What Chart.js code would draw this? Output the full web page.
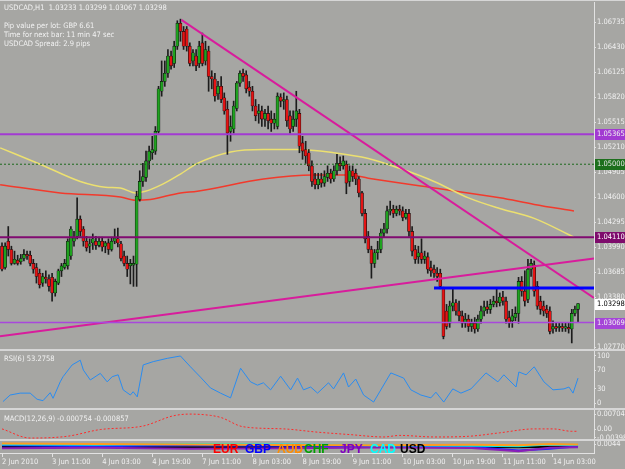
<!DOCTYPE html>
<html>
<head>
<meta charset="utf-8">
<title>USDCAD,H1</title>
<script src="https://cdn.jsdelivr.net/npm/chart.js"></script>
<style>
  html, body { margin: 0; padding: 0; }
  body {
    width: 625px; height: 469px; position: relative; overflow: hidden;
    background: #a6a6a3;
    font-family: "DejaVu Sans Condensed", "Liberation Sans Narrow", "Liberation Sans", sans-serif;
  }
  canvas { position: absolute; left: 0; }
  .sep { position: absolute; left: 0; width: 625px; height: 2px; background: #d6d6d6; z-index: 3; }
  .txt { position: absolute; left: 4px; color: #f2f2f2; font-size: 7.5px; line-height: 9px; white-space: pre; z-index: 4; }
  .cur { position: absolute; top: 443px; font: bold 12px "Liberation Sans", sans-serif; line-height: 12px; z-index: 4; }
</style>
</head>
<body>
  <canvas id="main" width="625" height="350" style="top:0"></canvas>
  <canvas id="rsi" width="625" height="57" style="top:351px"></canvas>
  <canvas id="macd" width="625" height="29" style="top:410px"></canvas>
  <canvas id="cur" width="625" height="28" style="top:441px"></canvas>

  <div class="sep" style="top:0;height:1px"></div>
  <div class="sep" style="top:349px"></div>
  <div class="sep" style="top:408px"></div>
  <div class="sep" style="top:439px"></div>

  <div class="txt" style="top:3px">USDCAD,H1  1.03233 1.03299 1.03067 1.03298</div>
  <div class="txt" style="top:21px">Pip value per lot: GBP 6.61</div>
  <div class="txt" style="top:30px">Time for next bar: 11 min 47 sec</div>
  <div class="txt" style="top:39px">USDCAD Spread: 2.9 pips</div>
  <div class="txt" style="top:354px">RSI(6) 53.2758</div>
  <div class="txt" style="top:414px">MACD(12,26,9) -0.000754 -0.000857</div>

  <div class="cur" style="left:213px;color:#ff0000">EUR</div>
  <div class="cur" style="left:245px;color:#0000ff">GBP</div>
  <div class="cur" style="left:277px;color:#ff8c00">AUD</div>
  <div class="cur" style="left:304px;color:#00a000">CHF</div>
  <div class="cur" style="left:340px;color:#8000c0">JPY</div>
  <div class="cur" style="left:370px;color:#00ffff">CAD</div>
  <div class="cur" style="left:400px;color:#000000">USD</div>

<script>
// USDCAD H1 candles, 2 Jun 19:00 -> 14 Jun 11:00
const opens = [
  1.0400, 1.0374, 1.0406, 1.0396, 1.0379, 1.0383, 1.0381, 1.0385, 1.0390, 1.0389,
  1.0379, 1.0374, 1.0367, 1.0355, 1.0362, 1.0360, 1.0362, 1.0343, 1.0355, 1.0370,
  1.0374, 1.0376, 1.0388, 1.0406, 1.0412, 1.0433, 1.0421, 1.0406, 1.0400, 1.0404,
  1.0406, 1.0401, 1.0406, 1.0400, 1.0404, 1.0396, 1.0406, 1.0409, 1.0403, 1.0388,
  1.0379, 1.0376, 1.0377, 1.0378, 1.0457, 1.0479, 1.0484, 1.0504, 1.0514, 1.0516,
  1.0540, 1.0589, 1.0601, 1.0611, 1.0632, 1.0623, 1.0644, 1.0672, 1.0662, 1.0665,
  1.0644, 1.0626, 1.0632, 1.0623, 1.0648, 1.0626, 1.0638, 1.0607, 1.0604, 1.0586,
  1.0595, 1.0581, 1.0567, 1.0540, 1.0543, 1.0568, 1.0599, 1.0611, 1.0609, 1.0594,
  1.0589, 1.0571, 1.0562, 1.0565, 1.0555, 1.0562, 1.0555, 1.0550, 1.0546, 1.0582,
  1.0577, 1.0579, 1.0559, 1.0546, 1.0555, 1.0562, 1.0526, 1.0518, 1.0514, 1.0498,
  1.0482, 1.0475, 1.0482, 1.0477, 1.0484, 1.0489, 1.0482, 1.0492, 1.0501, 1.0498,
  1.0500, 1.0479, 1.0492, 1.0489, 1.0482, 1.0465, 1.0440, 1.0412, 1.0396, 1.0379,
  1.0392, 1.0396, 1.0416, 1.0421, 1.0443, 1.0445, 1.0440, 1.0445, 1.0443, 1.0435,
  1.0440, 1.0418, 1.0396, 1.0387, 1.0392, 1.0384, 1.0387, 1.0374, 1.0372, 1.0367,
  1.0367, 1.0348, 1.0321, 1.0306, 1.0327, 1.0331, 1.0321, 1.0315, 1.0306, 1.0311,
  1.0302, 1.0306, 1.0299, 1.0311, 1.0321, 1.0326, 1.0323, 1.0329, 1.0333, 1.0331,
  1.0338, 1.0333, 1.0313, 1.0309, 1.0313, 1.0318, 1.0357, 1.0345, 1.0335, 1.0372,
  1.0377, 1.0351, 1.0333, 1.0327, 1.0323, 1.0321, 1.0299, 1.0302, 1.0301, 1.0302,
  1.0300, 1.0301, 1.0299, 1.0318, 1.0323
];
const highs = [
  1.0404, 1.0404, 1.0424, 1.0400, 1.0394, 1.0389, 1.0390, 1.0396, 1.0394, 1.0394,
  1.0384, 1.0379, 1.0372, 1.0367, 1.0370, 1.0365, 1.0367, 1.0360, 1.0372, 1.0379,
  1.0384, 1.0409, 1.0424, 1.0418, 1.0459, 1.0437, 1.0424, 1.0412, 1.0409, 1.0415,
  1.0412, 1.0411, 1.0411, 1.0406, 1.0409, 1.0411, 1.0421, 1.0422, 1.0406, 1.0394,
  1.0388, 1.0384, 1.0388, 1.0467, 1.0492, 1.0501, 1.0516, 1.0522, 1.0534, 1.0546,
  1.0595, 1.0626, 1.0626, 1.0640, 1.0638, 1.0650, 1.0675, 1.0677, 1.0668, 1.0668,
  1.0648, 1.0640, 1.0640, 1.0650, 1.0660, 1.0650, 1.0644, 1.0614, 1.0611, 1.0601,
  1.0607, 1.0587, 1.0577, 1.0559, 1.0577, 1.0601, 1.0614, 1.0616, 1.0614, 1.0601,
  1.0595, 1.0579, 1.0573, 1.0571, 1.0567, 1.0571, 1.0565, 1.0562, 1.0587, 1.0586,
  1.0587, 1.0583, 1.0565, 1.0565, 1.0589, 1.0567, 1.0534, 1.0528, 1.0518, 1.0504,
  1.0489, 1.0489, 1.0489, 1.0492, 1.0498, 1.0494, 1.0498, 1.0512, 1.0509, 1.0510,
  1.0504, 1.0498, 1.0498, 1.0494, 1.0485, 1.0467, 1.0445, 1.0418, 1.0400, 1.0396,
  1.0406, 1.0421, 1.0428, 1.0449, 1.0455, 1.0450, 1.0449, 1.0450, 1.0448, 1.0445,
  1.0445, 1.0424, 1.0401, 1.0400, 1.0409, 1.0394, 1.0392, 1.0382, 1.0377, 1.0374,
  1.0372, 1.0350, 1.0329, 1.0333, 1.0349, 1.0335, 1.0333, 1.0321, 1.0318, 1.0316,
  1.0311, 1.0313, 1.0316, 1.0327, 1.0333, 1.0333, 1.0335, 1.0339, 1.0349, 1.0343,
  1.0345, 1.0338, 1.0321, 1.0323, 1.0326, 1.0362, 1.0363, 1.0370, 1.0384, 1.0384,
  1.0382, 1.0357, 1.0339, 1.0333, 1.0328, 1.0326, 1.0309, 1.0306, 1.0306, 1.0307,
  1.0306, 1.0306, 1.0323, 1.0327, 1.0330
];
const lows = [
  1.0370, 1.0372, 1.0388, 1.0377, 1.0378, 1.0377, 1.0378, 1.0382, 1.0384, 1.0376,
  1.0367, 1.0355, 1.0349, 1.0351, 1.0355, 1.0345, 1.0333, 1.0339, 1.0353, 1.0363,
  1.0372, 1.0372, 1.0384, 1.0400, 1.0409, 1.0412, 1.0400, 1.0394, 1.0392, 1.0396,
  1.0396, 1.0399, 1.0394, 1.0392, 1.0390, 1.0394, 1.0403, 1.0399, 1.0382, 1.0376,
  1.0363, 1.0354, 1.0351, 1.0351, 1.0455, 1.0473, 1.0479, 1.0494, 1.0506, 1.0512,
  1.0538, 1.0583, 1.0595, 1.0606, 1.0616, 1.0618, 1.0640, 1.0650, 1.0640, 1.0638,
  1.0620, 1.0620, 1.0614, 1.0618, 1.0620, 1.0621, 1.0589, 1.0592, 1.0577, 1.0579,
  1.0575, 1.0561, 1.0512, 1.0528, 1.0538, 1.0565, 1.0595, 1.0601, 1.0587, 1.0583,
  1.0565, 1.0553, 1.0550, 1.0546, 1.0546, 1.0543, 1.0540, 1.0543, 1.0543, 1.0570,
  1.0567, 1.0546, 1.0538, 1.0540, 1.0546, 1.0514, 1.0506, 1.0501, 1.0492, 1.0473,
  1.0470, 1.0470, 1.0472, 1.0473, 1.0479, 1.0477, 1.0479, 1.0487, 1.0492, 1.0494,
  1.0464, 1.0473, 1.0479, 1.0475, 1.0460, 1.0437, 1.0404, 1.0392, 1.0361, 1.0374,
  1.0384, 1.0392, 1.0411, 1.0416, 1.0438, 1.0435, 1.0437, 1.0438, 1.0431, 1.0433,
  1.0412, 1.0388, 1.0379, 1.0379, 1.0379, 1.0379, 1.0367, 1.0363, 1.0362, 1.0357,
  1.0348, 1.0287, 1.0299, 1.0301, 1.0321, 1.0316, 1.0309, 1.0301, 1.0301, 1.0296,
  1.0296, 1.0294, 1.0296, 1.0306, 1.0315, 1.0318, 1.0318, 1.0326, 1.0326, 1.0327,
  1.0328, 1.0306, 1.0301, 1.0301, 1.0309, 1.0306, 1.0339, 1.0327, 1.0331, 1.0363,
  1.0339, 1.0323, 1.0317, 1.0315, 1.0313, 1.0293, 1.0294, 1.0296, 1.0296, 1.0296,
  1.0296, 1.0294, 1.0282, 1.0315, 1.0307
];
const closes = [
  1.0372, 1.0400, 1.0396, 1.0379, 1.0384, 1.0379, 1.0385, 1.0390, 1.0388, 1.0379,
  1.0372, 1.0363, 1.0353, 1.0363, 1.0360, 1.0351, 1.0343, 1.0357, 1.0370, 1.0376,
  1.0379, 1.0406, 1.0421, 1.0410, 1.0433, 1.0418, 1.0406, 1.0398, 1.0403, 1.0409,
  1.0401, 1.0406, 1.0399, 1.0404, 1.0396, 1.0406, 1.0410, 1.0404, 1.0385, 1.0379,
  1.0372, 1.0379, 1.0379, 1.0461, 1.0479, 1.0485, 1.0504, 1.0516, 1.0518, 1.0540,
  1.0592, 1.0601, 1.0611, 1.0632, 1.0620, 1.0644, 1.0672, 1.0662, 1.0644, 1.0644,
  1.0623, 1.0636, 1.0620, 1.0644, 1.0623, 1.0640, 1.0607, 1.0604, 1.0583, 1.0595,
  1.0579, 1.0565, 1.0538, 1.0546, 1.0571, 1.0599, 1.0611, 1.0607, 1.0592, 1.0589,
  1.0571, 1.0559, 1.0565, 1.0555, 1.0562, 1.0553, 1.0550, 1.0555, 1.0583, 1.0577,
  1.0579, 1.0553, 1.0543, 1.0555, 1.0565, 1.0522, 1.0516, 1.0510, 1.0498, 1.0479,
  1.0475, 1.0482, 1.0477, 1.0485, 1.0489, 1.0482, 1.0492, 1.0501, 1.0498, 1.0504,
  1.0477, 1.0492, 1.0485, 1.0482, 1.0465, 1.0440, 1.0409, 1.0396, 1.0379, 1.0392,
  1.0396, 1.0416, 1.0421, 1.0443, 1.0445, 1.0440, 1.0445, 1.0443, 1.0435, 1.0440,
  1.0418, 1.0394, 1.0384, 1.0392, 1.0384, 1.0388, 1.0372, 1.0370, 1.0367, 1.0363,
  1.0351, 1.0290, 1.0302, 1.0327, 1.0331, 1.0321, 1.0315, 1.0306, 1.0311, 1.0302,
  1.0306, 1.0299, 1.0311, 1.0321, 1.0326, 1.0323, 1.0329, 1.0333, 1.0331, 1.0338,
  1.0333, 1.0311, 1.0306, 1.0315, 1.0318, 1.0357, 1.0345, 1.0333, 1.0372, 1.0379,
  1.0345, 1.0327, 1.0323, 1.0321, 1.0318, 1.0296, 1.0302, 1.0300, 1.0302, 1.0300,
  1.0302, 1.0299, 1.0318, 1.0323, 1.0330
];

// moving averages (bar index -> price)
const yellowIdx = [-0.6, 12.2, 25, 33, 37.8, 42.6, 45.8, 51.5, 57, 62.4, 73, 83.5, 94.4, 106, 117, 127, 138, 149, 159, 170, 182.7];
const yellowVal = [1.0520, 1.0500, 1.0479, 1.0472, 1.0471, 1.0465, 1.0467, 1.0476, 1.0488, 1.0501, 1.0515, 1.0518, 1.0518, 1.0514, 1.0507, 1.0495, 1.0479, 1.0459, 1.0446, 1.0434, 1.0411];
const redIdx = [-0.6, 18.6, 37.8, 42.6, 47.4, 57, 62.4, 83.5, 99.5, 111, 117, 138, 159, 170, 182.7];
const redVal = [1.0475, 1.0465, 1.0460, 1.0456, 1.0457, 1.0465, 1.0467, 1.0482, 1.0487, 1.0487, 1.0483, 1.0471, 1.0459, 1.0451, 1.0443];

// drawn objects
const levels = [1.05365, 1.05000, 1.04110, 1.03069];
const downTrend = [[57.3, 1.0676], [189.1, 1.0337]];
const upTrend = [[-0.64, 1.0290], [189.1, 1.0385]];
const blueLevel = 1.0349, blueFrom = 138;

// right-axis price boxes
const markPrices = [1.05365, 1.05000, 1.04110, 1.03298, 1.03069];
const markFill = ['#a23ad2', '#1d6f1d', '#7e0c6c', '#ffffff', '#a545d8'];
const markInk = ['#f2f2f2', '#e6e6e6', '#ffffff', '#000000', '#f2f2f2'];

const priceTicks = [1.06735, 1.06430, 1.06125, 1.05820, 1.05515, 1.05210, 1.04905, 1.04600, 1.04295, 1.03990, 1.03685, 1.03380, 1.03075, 1.02770];

// RSI(6)
const rsiIdx = [0.3, 2.6, 5.8, 9, 11.2, 13.1, 15.4, 16.3, 18.6, 19.5, 22.4, 25, 26, 28.2, 31.4, 33.6, 35.2, 37.1, 38.7, 41, 41.9, 43.2, 45.1, 48.3, 52.8, 57, 60.2, 63.4, 66.6, 69.8, 73, 76.2, 79.4, 81.6, 83.5, 85.8, 89, 92.2, 94.4, 96.3, 98.6, 100.8, 104.3, 105.9, 109.1, 110.7, 113, 115.5, 118.7, 124.2, 128.3, 130.6, 133.8, 137, 138.6, 141.1, 144, 146.6, 149.8, 154.6, 158.4, 160.3, 164.2, 165.1, 167.4, 170, 173.1, 176, 179.5, 181.1, 182.4, 184];
const rsiVal = [3, 17, 21, 21, 8, 5, 22, 10, 45, 56, 81, 91, 70, 49, 63, 45, 56, 60, 28, 17, 24, 13, 81, 88, 95, 100, 77, 55, 32, 21, 11, 74, 45, 38, 43, 28, 57, 28, 53, 28, 34, 21, 43, 30, 64, 34, 51, 17, 2, 64, 53, 28, 17, 11, 23, 2, 30, 21, 30, 64, 45, 60, 34, 66, 60, 77, 45, 28, 30, 34, 21, 53];
const rsiTicks = [0, 30, 70, 100];

// MACD(12,26,9) signal
const sigIdx = [0, 9, 20.8, 31.4, 45, 54.7, 60, 66.6, 70, 77, 90, 100.8, 111, 122, 127, 138, 149, 159, 170, 176, 182, 184];
const sigVal = [0.0002, -0.0040, -0.0032, -0.0001, 0.0015, 0.0062, 0.0070, 0.0064, 0.0054, 0.0012, 0.0002, -0.0013, -0.0024, -0.0035, -0.0028, -0.0035, -0.0032, -0.0016, 0.0002, 0.0002, -0.0009, -0.0009];
const macdTicks = [-0.00398, 0, 0.00704];

// currency strength strip
const strIdx = [0, 30, 60, 90, 120, 150, 165, 175, 184];
const strBlack = [0.0010, 0.0012, 0.0008, 0.0010, 0.0012, 0.0010, 0.0006, 0.0012, 0.0014];
const strBlue = [0.0030, 0.0020, 0.0030, 0.0026, 0.0018, 0.0010, -0.0030, -0.0010, 0.0020];
const strCyan = [0.0040, 0.0036, 0.0044, 0.0040, 0.0030, 0.0024, 0.0020, 0.0040, 0.0036];
const strOrange = [0.0050, 0.0046, 0.0040, 0.0034, 0.0030, 0.0036, 0.0030, 0.0044, 0.0040];
const strPurple = [-0.0006, 0.0000, -0.0010, -0.0004, 0.0004, -0.0002, -0.0040, 0.0000, 0.0006];
const curTicks = [0.0044];

// time axis
const timeIdx = [0, 16, 32, 48, 64, 80, 96, 112, 128, 144, 160, 176];
const timeLabels = ['2 Jun 2010', '3 Jun 11:00', '4 Jun 03:00', '4 Jun 19:00', '7 Jun 11:00', '8 Jun 03:00',
  '8 Jun 19:00', '9 Jun 11:00', '10 Jun 03:00', '10 Jun 19:00', '11 Jun 11:00', '14 Jun 03:00'];

const xMin = -0.64, xMax = 189.1;
const FONT = '"DejaVu Sans Condensed", "Liberation Sans Narrow", "Liberation Sans", sans-serif';
const INK = '#f0f0f0', AXIS = '#e2e2e2';

function pts(idx, val) { return idx.map((x, k) => ({ x: x, y: val[k] })); }
function flat(y, from) { return [{ x: from, y: y }, { x: xMax, y: y }]; }

function paneOptions(yMin, yMax, yTicks, fmt, pad, showX) {
  return {
    responsive: false,
    animation: false,
    events: [],
    layout: { padding: pad },
    plugins: { legend: { display: false }, tooltip: { enabled: false } },
    scales: {
      x: {
        type: 'linear', min: xMin, max: xMax, offset: false, display: showX, position: 'bottom',
        grid: { offset: false, drawOnChartArea: false, drawTicks: true, tickLength: 4, color: AXIS },
        border: { display: true, color: AXIS },
        afterBuildTicks: s => { s.ticks = timeIdx.map(v => ({ value: v })); },
        afterFit: s => {
          if (!showX) { s.height = 0; s.width = 0; return; }
          s.height = 16; s.paddingLeft = 0; s.paddingRight = 0;
        },
        ticks: { autoSkip: false, maxRotation: 0, align: 'start', padding: 1, color: INK,
                 font: { family: FONT, size: 7.5 }, callback: (v, i) => timeLabels[i] }
      },
      y: {
        position: 'right', min: yMin, max: yMax,
        grid: { drawOnChartArea: false, drawTicks: true, tickLength: 2, color: AXIS },
        border: { display: true, color: AXIS },
        afterBuildTicks: s => { s.ticks = yTicks.map(v => ({ value: v })); },
        afterFit: s => { s.width = 31; s.paddingTop = 0; s.paddingBottom = 0; },
        ticks: { autoSkip: false, padding: 1, color: INK, font: { family: FONT, size: 7.5 }, callback: fmt }
      }
    }
  };
}

// price boxes on the right axis
const markPlugin = {
  id: 'marks',
  afterDraw(chart) {
    const ctx = chart.ctx, y = chart.scales.y, left = chart.chartArea.right + 1;
    ctx.save();
    ctx.font = '7.5px ' + FONT;
    ctx.textBaseline = 'middle';
    markPrices.forEach((p, k) => {
      const py = Math.round(y.getPixelForValue(p));
      ctx.fillStyle = markFill[k];
      ctx.fillRect(left, py - 5, 625 - left, 11);
      ctx.fillStyle = markInk[k];
      ctx.fillText(p.toFixed(5), left + 2, py + 0.5);
    });
    ctx.restore();
  }
};

// main price pane
const mainOpts = paneOptions(1.02746, 1.06979, priceTicks, v => v.toFixed(5), { top: 2, bottom: 1, left: 0, right: 0 }, false);
new Chart(document.getElementById('main'), {
  type: 'bar',
  data: {
    datasets: [
      { type: 'line', data: pts(yellowIdx, yellowVal), borderColor: '#ece070', borderWidth: 1.5,
        pointRadius: 0, cubicInterpolationMode: 'monotone', order: 9 },
      { type: 'line', data: pts(redIdx, redVal), borderColor: '#f23a2c', borderWidth: 1.5,
        pointRadius: 0, cubicInterpolationMode: 'monotone', order: 9 },
      { data: highs.map((h, i) => ({ x: i, y: [lows[i], h] })), backgroundColor: '#1c1c1c',
        barThickness: 1, grouped: false, order: 8 },
      { data: opens.map((o, i) => ({ x: i, y: [o, closes[i]] })),
        backgroundColor: opens.map((o, i) => closes[i] >= o ? '#1fa21f' : '#e41414'),
        borderColor: '#101010', borderWidth: 0.6, borderSkipped: false,
        barThickness: 3, minBarLength: 1, grouped: false, order: 7 },
      { type: 'line', data: flat(levels[0], xMin), borderColor: '#a23ad2', borderWidth: 2, pointRadius: 0, order: 1 },
      { type: 'line', data: flat(levels[1], xMin), borderColor: '#1d6a1d', borderWidth: 1, borderDash: [2, 2], pointRadius: 0, order: 1 },
      { type: 'line', data: flat(levels[2], xMin), borderColor: '#800a70', borderWidth: 2, pointRadius: 0, order: 1 },
      { type: 'line', data: flat(levels[3], xMin), borderColor: '#a848dc', borderWidth: 1.5, pointRadius: 0, order: 1 },
      { type: 'line', data: downTrend.map(p => ({ x: p[0], y: p[1] })), borderColor: '#d81c9c', borderWidth: 2, pointRadius: 0, order: 1 },
      { type: 'line', data: upTrend.map(p => ({ x: p[0], y: p[1] })), borderColor: '#d81c9c', borderWidth: 2, pointRadius: 0, order: 1 },
      { type: 'line', data: flat(blueLevel, blueFrom), borderColor: '#0000ff', borderWidth: 3, pointRadius: 0, order: 0 }
    ]
  },
  options: mainOpts,
  plugins: [markPlugin]
});

// RSI pane
new Chart(document.getElementById('rsi'), {
  type: 'line',
  data: { datasets: [{ data: pts(rsiIdx, rsiVal), borderColor: '#2a8cf0', borderWidth: 1, pointRadius: 0 }] },
  options: paneOptions(-10.6, 110.6, rsiTicks, v => String(v), { top: 0, bottom: 0, left: 0, right: 0 }, false)
});

// MACD pane
new Chart(document.getElementById('macd'), {
  type: 'line',
  data: { datasets: [{ data: pts(sigIdx, sigVal), borderColor: '#ff2a2a', borderWidth: 1, borderDash: [2, 2],
                       pointRadius: 0, cubicInterpolationMode: 'monotone' }] },
  options: paneOptions(-0.00444, 0.00888, macdTicks, v => v === 0 ? '0.00' : v.toFixed(5), { top: 0, bottom: 0, left: 0, right: 0 }, false)
});

// currency strength pane with time axis
new Chart(document.getElementById('cur'), {
  type: 'line',
  data: {
    datasets: [
      { data: pts(strIdx, strOrange), borderColor: '#ff9a20', borderWidth: 2, pointRadius: 0 },
      { data: pts(strIdx, strCyan), borderColor: '#00e8e8', borderWidth: 2, pointRadius: 0 },
      { data: pts(strIdx, strPurple), borderColor: '#8a1fb8', borderWidth: 2, pointRadius: 0 },
      { data: pts(strIdx, strBlue), borderColor: '#2020ff', borderWidth: 2, pointRadius: 0 },
      { data: pts(strIdx, strBlack), borderColor: '#000000', borderWidth: 2, pointRadius: 0 }
    ]
  },
  options: paneOptions(-0.006, 0.008, curTicks, v => v.toFixed(4), { top: 0, bottom: 0, left: 0, right: 0 }, true)
});
</script>
</body>
</html>
